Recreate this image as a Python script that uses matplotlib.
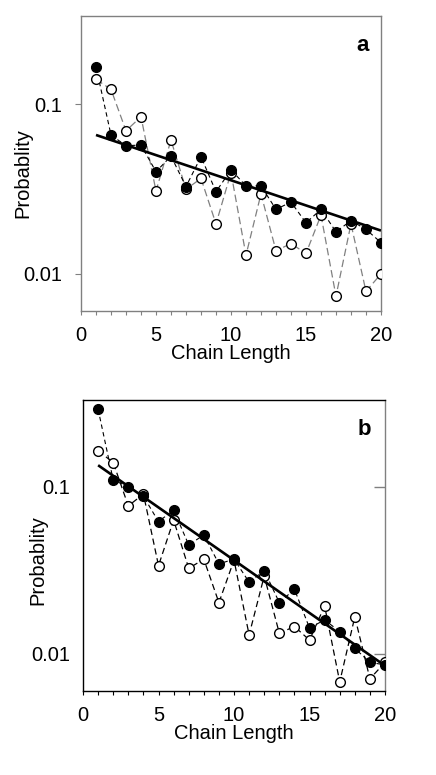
import matplotlib
matplotlib.use("Agg")
import matplotlib.pyplot as plt
from matplotlib.ticker import FixedLocator, NullLocator, FixedFormatter

plt.rcParams['font.family'] = ['Liberation Sans', 'DejaVu Sans']

chain_length = list(range(1, 21))

a_filled = [0.166, 0.0658, 0.0569, 0.0574, 0.040, 0.0494, 0.0327, 0.049, 0.0305, 0.041,
            0.033, 0.033, 0.024, 0.0265, 0.020, 0.024, 0.0177, 0.0206, 0.0183, 0.0153]
a_open = [0.140, 0.122, 0.0697, 0.0842, 0.0308, 0.0614, 0.0315, 0.0365, 0.0197, 0.0395,
          0.0129, 0.0296, 0.0137, 0.0151, 0.0132, 0.0222, 0.0074, 0.0197, 0.0079, 0.0100]
a_fit_x = [1, 20]
a_fit_y = [0.0658, 0.0180]

b_filled = [0.292, 0.110, 0.1005, 0.088, 0.062, 0.0728, 0.045, 0.0516, 0.0346, 0.037,
            0.0269, 0.0316, 0.0203, 0.0244, 0.0143, 0.0160, 0.0136, 0.0108, 0.0089, 0.0086]
b_open = [0.165, 0.140, 0.077, 0.0908, 0.0338, 0.0634, 0.0326, 0.0369, 0.0203, 0.0365,
          0.0130, 0.0293, 0.0133, 0.0146, 0.0121, 0.0194, 0.0068, 0.0167, 0.0071, 0.0089]
b_fit_x = [1, 20]
b_fit_y = [0.135, 0.0085]

x_ticks = [0, 5, 10, 15, 20]
y_ticks = [0.1, 0.01]
y_tick_labels = ['0.1', '0.01']

fig = plt.figure(figsize=(4.36, 7.75), dpi=100)
ax_a = fig.add_axes([0.1858, 0.5987, 0.688, 0.3806])
ax_b = fig.add_axes([0.1904, 0.1084, 0.6927, 0.3755])

FS = 14.5
GRAY = '#808080'


def draw(ax, filled, opn, fx, fy, open_color, open_dash):
    ax.plot(chain_length, opn, color=open_color, lw=0.9, dashes=open_dash, zorder=2)
    ax.plot(chain_length, filled, color='black', lw=0.8, dashes=(4, 3), zorder=2)
    ax.plot(chain_length, opn, 'o', ms=7, mfc='white', mec='black', mew=1.0, zorder=3,
            linestyle='none')
    ax.plot(chain_length, filled, 'o', ms=7, mfc='black', mec='black', mew=1.0, zorder=4,
            linestyle='none')
    ax.plot(fx, fy, color='black', lw=1.9, zorder=5, solid_capstyle='butt')
    ax.set_yscale('log')
    ax.set_xlim(0, 20)
    ax.xaxis.set_major_locator(FixedLocator(x_ticks))
    ax.xaxis.set_minor_locator(FixedLocator(chain_length))
    ax.yaxis.set_major_locator(FixedLocator(y_ticks))
    ax.yaxis.set_major_formatter(FixedFormatter(y_tick_labels))
    ax.yaxis.set_minor_locator(NullLocator())
    ax.tick_params(axis='x', which='both', direction='out', length=3, width=0.8,
                   labelsize=FS, pad=8)
    ax.set_xlabel('Chain Length', fontsize=FS, labelpad=-1)
    ax.set_ylabel('Probablity', fontsize=FS)


draw(ax_a, a_filled, a_open, a_fit_x, a_fit_y, GRAY, (6, 3))
ax_a.set_ylim(0.00605, 0.33)
for s in ax_a.spines.values():
    s.set_color(GRAY)
    s.set_linewidth(1.0)
ax_a.tick_params(axis='x', which='both', color=GRAY)
ax_a.tick_params(axis='y', which='major', direction='out', length=4, width=0.8, color=GRAY,
                 labelsize=FS, pad=9.5)
ax_a.yaxis.set_label_coords(-0.163, 0.468)
ax_a.text(0.96, 0.90, 'a', transform=ax_a.transAxes, fontsize=16, fontweight='bold',
          ha='right', va='center')

draw(ax_b, b_filled, b_open, b_fit_x, b_fit_y, 'black', (5, 3))
ax_b.set_ylim(0.006, 0.332)
for name, s in ax_b.spines.items():
    s.set_color('black')
    s.set_linewidth(1.0)
ax_b.spines['right'].set_color(GRAY)
ax_b.tick_params(axis='y', which='major', left=False, right=True, labelleft=True,
                 direction='in', length=8, width=1.0, color=GRAY, labelsize=FS, pad=9)
ax_b.yaxis.set_label_coords(-0.119, 0.45)
ax_b.text(0.955, 0.90, 'b', transform=ax_b.transAxes, fontsize=16, fontweight='bold',
          ha='right', va='center')

fig.savefig('out.png', dpi=100)
